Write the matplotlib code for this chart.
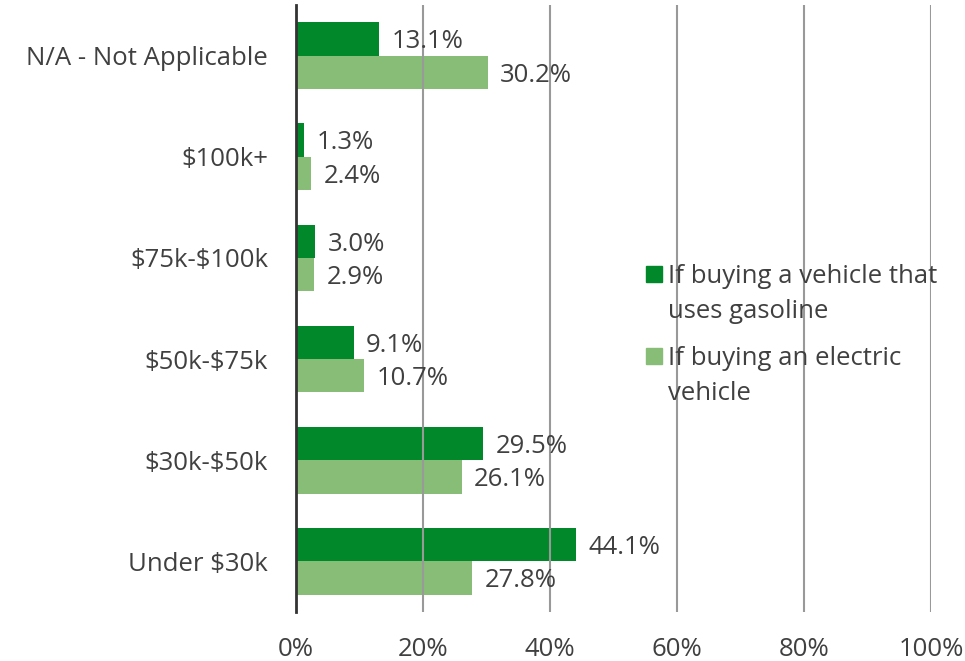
import matplotlib
matplotlib.use("Agg")
import matplotlib.pyplot as plt
from matplotlib.patches import Rectangle
import numpy as np

categories = ["Under $30k", "$30k-$50k", "$50k-$75k", "$75k-$100k", "$100k+", "N/A - Not Applicable"]
gasoline = [44.1, 29.5, 9.1, 3.0, 1.3, 13.1]
electric = [27.8, 26.1, 10.7, 2.9, 2.4, 30.2]
series_names = [["If buying a vehicle that", "uses gasoline"], ["If buying an electric", "vehicle"]]
x_ticks = [0, 20, 40, 60, 80, 100]

DARK = "#00882B"
LIGHT = "#88BD77"
TEXT = "#404040"
FS = 18.5

plt.rcParams["font.family"] = ["Open Sans", "DejaVu Sans"]
plt.rcParams["text.parse_math"] = False


def main():
    W, H = 965, 661
    fig = plt.figure(figsize=(W / 100, H / 100), dpi=100)
    ax = fig.add_axes([0.3067, 0.0741, 0.658, 0.9183])

    y = np.arange(len(categories))
    h = 0.33
    bars_gas = ax.barh(y + h / 2, gasoline, height=h, color=DARK, zorder=1)
    bars_ev = ax.barh(y - h / 2, electric, height=h, color=LIGHT, zorder=1)

    for bars, vals in ((bars_gas, gasoline), (bars_ev, electric)):
        for b, v in zip(bars, vals):
            ax.annotate(f"{v:.1f}%", (v, b.get_y() + b.get_height() / 2),
                        xytext=(9, -2), textcoords="offset points",
                        ha="left", va="center", fontsize=FS, color=TEXT, zorder=3)

    ax.set_xlim(0, 100)
    ax.set_ylim(-0.5, len(categories) - 0.5)
    ax.set_xticks(x_ticks)
    ax.set_xticklabels([f"{t}%" for t in x_ticks])
    ax.set_yticks(y)
    ax.set_yticklabels(categories)
    ax.tick_params(axis="both", length=0, labelsize=FS, labelcolor=TEXT)
    ax.tick_params(axis="y", pad=20)
    ax.tick_params(axis="x", pad=18)

    ax.grid(axis="x", color="#999999", linewidth=1.5, zorder=2)
    ax.set_axisbelow(False)
    for s in ("top", "right", "bottom"):
        ax.spines[s].set_visible(False)
    ax.spines["left"].set_color("#333333")
    ax.spines["left"].set_linewidth(2)
    ax.spines["left"].set_zorder(4)

    # legend drawn by hand so the swatch sits on the first line of each label
    first_baselines = [283, 365]
    for lines, base, color in zip(series_names, first_baselines, (DARK, LIGHT)):
        fig.patches.append(Rectangle((646 / W, 1 - (base - 1) / H), 16 / W, 16 / H,
                                     transform=fig.transFigure, color=color))
        for k, line in enumerate(lines):
            fig.text(668 / W, 1 - (base + 35 * k) / H, line, fontsize=FS,
                     color=TEXT, ha="left", va="baseline")

    fig.savefig("out.png", dpi=100)


if __name__ == "__main__":
    main()
